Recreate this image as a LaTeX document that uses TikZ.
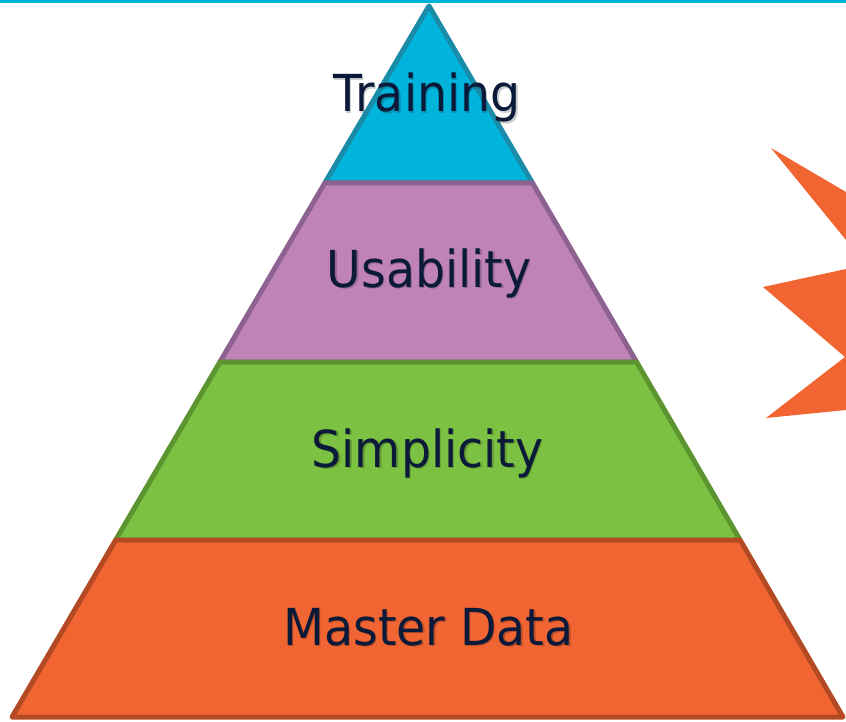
\documentclass[tikz,border=0pt]{standalone}
\usepackage{fontspec}
\newfontfamily\labfont[FakeStretch=0.93]{DejaVu Sans}
\definecolor{cyanfill}{HTML}{00B4DC}
\definecolor{cyanline}{HTML}{1A8CA8}
\definecolor{purplefill}{HTML}{BF83B8}
\definecolor{purpleline}{HTML}{8E6290}
\definecolor{greenfill}{HTML}{7CC142}
\definecolor{greenline}{HTML}{5C9430}
\definecolor{orangefill}{HTML}{F16533}
\definecolor{orangeline}{HTML}{B44A24}
\definecolor{labcol}{HTML}{0C1A3A}
\tikzset{
  band/.style={line width=5pt, line join=round},
  lab/.style={anchor=base, inner sep=0pt, text=labcol, font=\labfont\fontsize{51}{51}\selectfont},
  labshadow/.style={anchor=base, inner sep=0pt, text=black, opacity=0.2, font=\labfont\fontsize{51}{51}\selectfont}
}
\begin{document}
\begin{tikzpicture}[x=1pt,y=-1pt]
\useasboundingbox (0,0) rectangle (846,722);
% top rule
\fill[cyanfill] (0,0) rectangle (846,3.5);
% starburst
\fill[orangefill] (846,192) -- (771,148) -- (846,240) -- (846,269) -- (763,287) -- (845,357) -- (766,418) -- (846,410) -- cycle;
% bands
\draw[band, fill=cyanfill, draw=cyanline] (429,6) -- (532.5,183) -- (324.8,183) -- cycle;
\draw[band, fill=purplefill, draw=purpleline] (324.8,183) -- (532.5,183) -- (636.6,362) -- (219.9,362) -- cycle;
\draw[band, fill=greenfill, draw=greenline] (219.9,362) -- (636.6,362) -- (740.1,540) -- (115.7,540) -- cycle;
\draw[band, fill=orangefill, draw=orangeline] (115.7,540) -- (740.1,540) -- (843,717) -- (12,717) -- cycle;
% labels
\node[labshadow] (trs) at (428.5,113.5) {Training};
\node[lab] (tr) at (427,112) {Training};
\node[labshadow] (uss) at (430.5,288.5) {Usability};
\node[lab] (us) at (429,287) {Usability};
\node[labshadow] (sis) at (429,468.5) {Simplicity};
\node[lab] (si) at (427.5,467) {Simplicity};
\node[labshadow] (mds) at (430,646.5) {Master Data};
\node[lab] (md) at (428.5,645) {Master Data};
\end{tikzpicture}
\end{document}
